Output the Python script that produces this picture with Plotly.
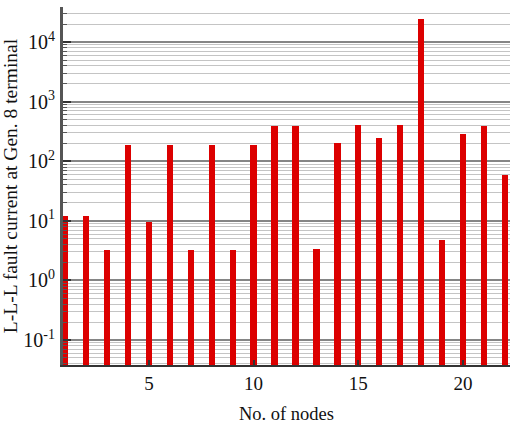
import plotly.graph_objects as go
import math

nodes = list(range(1, 23))
fault_current = [12, 12, 3.2, 190, 9.4, 190, 3.2, 190, 3.2, 190, 390, 390,
                 3.4, 200, 405, 245, 400, 24500, 4.8, 285, 390, 58]

major_vals = [0.1, 1, 10, 100, 1000, 10000]
major_text = ["10<sup>-1</sup>", "10<sup>0</sup>", "10<sup>1</sup>",
              "10<sup>2</sup>", "10<sup>3</sup>", "10<sup>4</sup>"]
minor_vals = [m * 10 ** k for k in range(-2, 5) for m in range(2, 10)]
x_ticks = [5, 10, 15, 20]

font_family = "Liberation Serif"

fig = go.Figure()
fig.add_trace(go.Bar(
    x=nodes, y=fault_current, width=0.3,
    marker=dict(color="#dc0000", line=dict(width=0)),
    showlegend=False,
))

fig.update_layout(
    width=510, height=425,
    margin=dict(l=63, r=0, t=7, b=60),
    paper_bgcolor="white", plot_bgcolor="white",
    font=dict(family=font_family, size=20, color="#111"),
    bargap=0,
)

fig.update_xaxes(
    range=[0.9, 22.24],
    tickmode="array", tickvals=x_ticks, ticktext=[str(v) for v in x_ticks],
    ticks="inside", ticklen=5, tickwidth=2, tickcolor="#333",
    showgrid=False, zeroline=False,
    showline=True, linecolor="#333", linewidth=2,
    tickfont=dict(family=font_family, size=19, color="#111"),
    title=dict(text="No. of nodes",
               font=dict(family=font_family, size=18.5, color="#111"),
               standoff=14),
)

fig.update_yaxes(
    type="log",
    range=[math.log10(0.038), 4.59],
    tickmode="array", tickvals=major_vals, ticktext=major_text,
    ticks="inside", ticklen=8, tickwidth=2, tickcolor="#333",
    showgrid=True, gridcolor="#858585", gridwidth=2,
    minor=dict(tickmode="array", tickvals=minor_vals, ticks="inside",
               ticklen=4, tickwidth=1, tickcolor="#555",
               showgrid=True, gridcolor="#c4c4c4", gridwidth=1),
    zeroline=False,
    showline=True, linecolor="#555", linewidth=3,
    tickfont=dict(family=font_family, size=20, color="#111"),
    ticklabelstandoff=1,
    title=dict(text="L-L-L fault current at Gen. 8 terminal",
               font=dict(family=font_family, size=19.5, color="#111"),
               standoff=4),
)

fig.write_html("out.html")
